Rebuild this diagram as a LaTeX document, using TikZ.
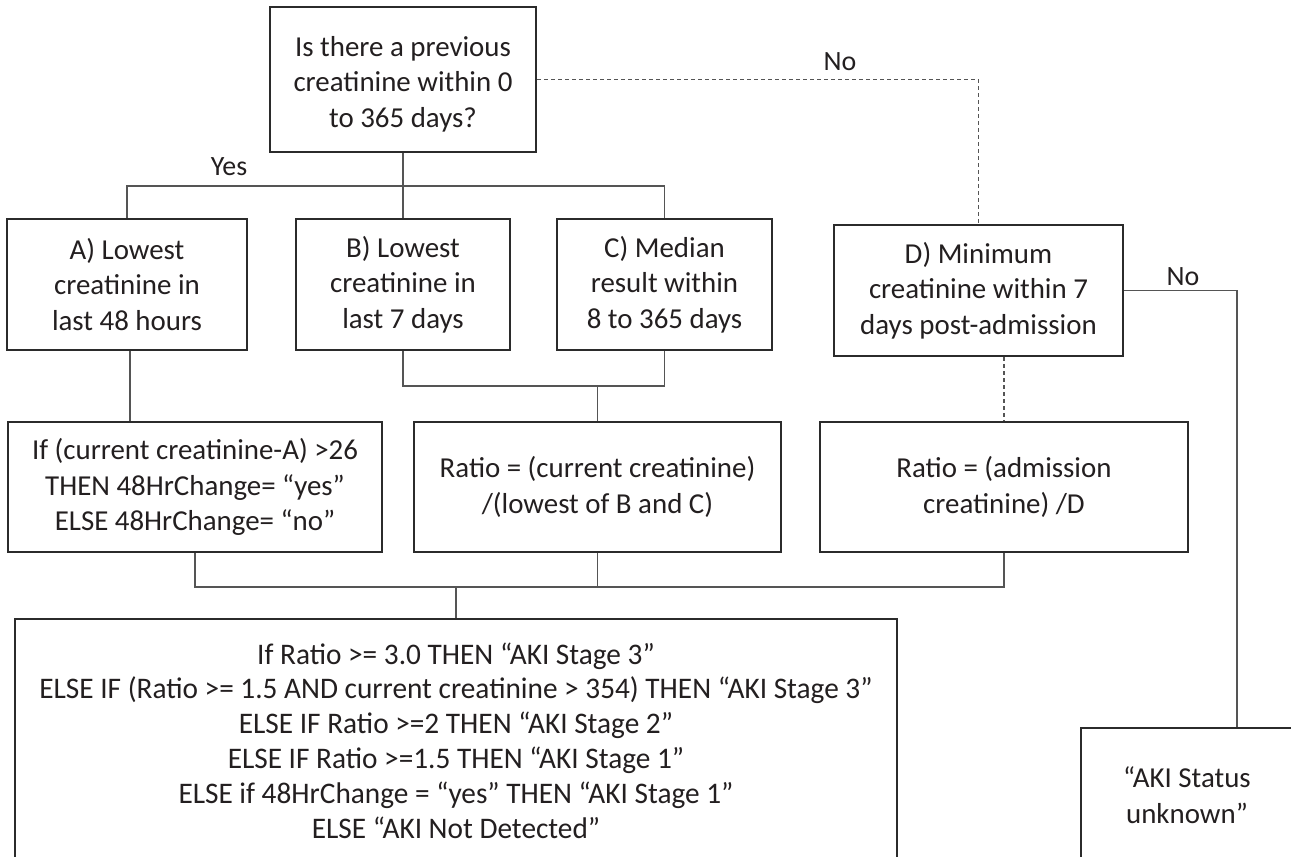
\documentclass[tikz,border=0pt]{standalone}
\usepackage{fontspec}
\setmainfont{Carlito}
\newfontfamily\condfont{Carlito}[FakeStretch=0.98]
\definecolor{boxline}{HTML}{2B2B2B}
\definecolor{conline}{HTML}{555555}
\definecolor{txt}{HTML}{231F20}
\tikzset{
  flowbox/.style={draw=boxline, line width=2.6bp, rectangle, align=center, inner sep=0pt,
    text=txt, font=\fontsize{29}{35.5}\selectfont},
  conn/.style={draw=conline, line width=1.3bp},
  dconn/.style={draw=conline, line width=1.3bp, dash pattern=on 4bp off 3bp},
  lab/.style={text=txt, font=\fontsize{28}{34}\selectfont, inner sep=0pt}
}
\begin{document}
\begin{tikzpicture}[x=1bp,y=-1bp]
\useasboundingbox (0,0) rectangle (1291,857);
\clip (0,0) rectangle (1291,857);
\fill[white] (0,0) rectangle (1291,857);

\node[flowbox, minimum width=266bp, minimum height=145bp] (Q) at (403,79.5)
  {\rule{0pt}{29bp}Is there a previous\\creatinine within 0\\to 365 days?};
\node[flowbox, minimum width=240bp, minimum height=131bp] (A) at (127,284.5)
  {A) Lowest\\creatinine in\\last 48 hours};
\node[flowbox, minimum width=214bp, minimum height=131bp] (B) at (403,284.5)
  {B) Lowest\\creatinine in\\last 7 days};
\node[flowbox, minimum width=215bp, minimum height=131bp] (C) at (664.5,284.5)
  {C) Median\\result within\\8 to 365 days};
\node[flowbox, minimum width=289bp, minimum height=131bp] (D) at (978.5,290.5)
  {D) Minimum\\creatinine within 7\\days post-admission};
\node[flowbox, minimum width=374bp, minimum height=130bp] (IF) at (195,487)
  {If (current creatinine-A) >26\\THEN 48HrChange= “yes”\\ELSE 48HrChange= “no”};
\node[flowbox, minimum width=367bp, minimum height=130bp] (RBC) at (597.5,487)
  {Ratio = (current creatinine)\\/(lowest of B and C)};
\node[flowbox, minimum width=368bp, minimum height=130bp] (RD) at (1004,487)
  {Ratio = (admission\\creatinine) /D};
\node[flowbox, minimum width=882bp, minimum height=243bp,
  font=\condfont\fontsize{30}{35}\selectfont] (F) at (456,740.5)
  {If Ratio >= 3.0 THEN “AKI Stage 3”\\
   ELSE IF (Ratio >= 1.5 AND current creatinine > 354) THEN “AKI Stage 3”\\
   ELSE IF Ratio >=2 THEN “AKI Stage 2”\\
   ELSE IF Ratio >=1.5 THEN “AKI Stage 1”\\
   ELSE if 48HrChange = “yes” THEN “AKI Stage 1”\\
   ELSE “AKI Not Detected”};
\node[flowbox, minimum width=212bp, minimum height=134bp] (U) at (1187,795)
  {“AKI Status\\unknown”};

% Yes branch
\coordinate (ybar) at (403,186);
\draw[conn] (Q.south) -- (B.north);
\draw[conn] (A.north) |- (ybar) -| (C.north);
% A to IF
\draw[conn] ([xshift=3bp]A.south) -- ([xshift=3bp]A.south |- IF.north);
% B, C to RBC
\coordinate (bc) at (597.5,386);
\draw[conn] (B.south) |- (bc) -| (C.south);
\draw[conn] (bc) -- (RBC.north);
% row 3 to final
\coordinate (jn) at (456,587);
\draw[conn] (IF.south) |- (jn);
\draw[conn] (RD.south) |- (jn);
\draw[conn] (RBC.south) -- (RBC.south |- jn);
\draw[conn] (jn) -- (F.north);
% No branch (dashed)
\draw[dconn] (Q.east) -| (D.north);
\draw[dconn] (D.south -| RD.north) -- (RD.north);
% No from D
\draw[conn] (D.east) -| ([xshift=50bp]U.north);

\node[lab] (yes) at (229,167) {Yes};
\node[lab] (no1) at (840,62) {No};
\node[lab] (no2) at (1183,277) {No};
\end{tikzpicture}
\end{document}
